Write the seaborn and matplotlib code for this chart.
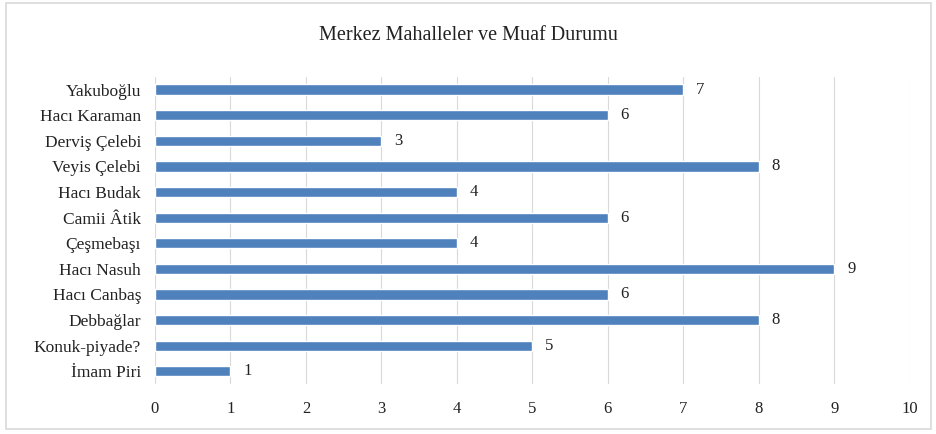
import matplotlib
matplotlib.use("Agg")
import matplotlib.pyplot as plt
import seaborn as sns
import pandas as pd
from matplotlib.patches import Rectangle

mahalle = ["Yakuboğlu", "Hacı Karaman", "Derviş Çelebi", "Veyis Çelebi", "Hacı Budak",
           "Camii Âtik", "Çeşmebaşı", "Hacı Nasuh", "Hacı Canbaş", "Debbağlar",
           "Konuk-piyade?", "İmam Piri"]
muaf = [7, 6, 3, 8, 4, 6, 4, 9, 6, 8, 5, 1]

df = pd.DataFrame({"mahalle": mahalle, "muaf": muaf})

sns.set_style("white")
plt.rcParams["font.family"] = ["Liberation Serif", "DejaVu Serif"]

fig = plt.figure(figsize=(9.37, 4.34), dpi=100)
ax = fig.add_axes([0.1654, 0.115, 0.8056, 0.708])

sns.barplot(data=df, x="muaf", y="mahalle", orient="h", color="#4f81bd",
            saturation=1, width=0.4, ax=ax, zorder=3)

for i, v in enumerate(muaf):
    ax.text(v + 0.17, i, str(v), va="center", ha="left", fontsize=12, color="#222222")

ax.set_xlim(0, 10)
ax.set_xticks(range(0, 11))
ax.set_ylim(len(mahalle) - 0.5, -0.5)
ax.grid(axis="x", color="#d9d9d9", linewidth=0.8, zorder=0)
ax.set_xlabel("")
ax.set_ylabel("")
for s in ax.spines.values():
    s.set_visible(False)
ax.tick_params(axis="both", length=0, labelsize=12.5, colors="#222222")
ax.tick_params(axis="x", pad=12, labelsize=12)
ax.tick_params(axis="y", pad=10)

fig.text(0.5, 0.918, "Merkez Mahalleler ve Muaf Durumu", ha="center", va="center",
         fontsize=14.5, color="#222222")

fig.patches.append(Rectangle((0.006, 0.012), 0.988, 0.98, transform=fig.transFigure,
                             fill=False, edgecolor="#d9d9d9", linewidth=1.2))

fig.savefig("out.png", dpi=100)
